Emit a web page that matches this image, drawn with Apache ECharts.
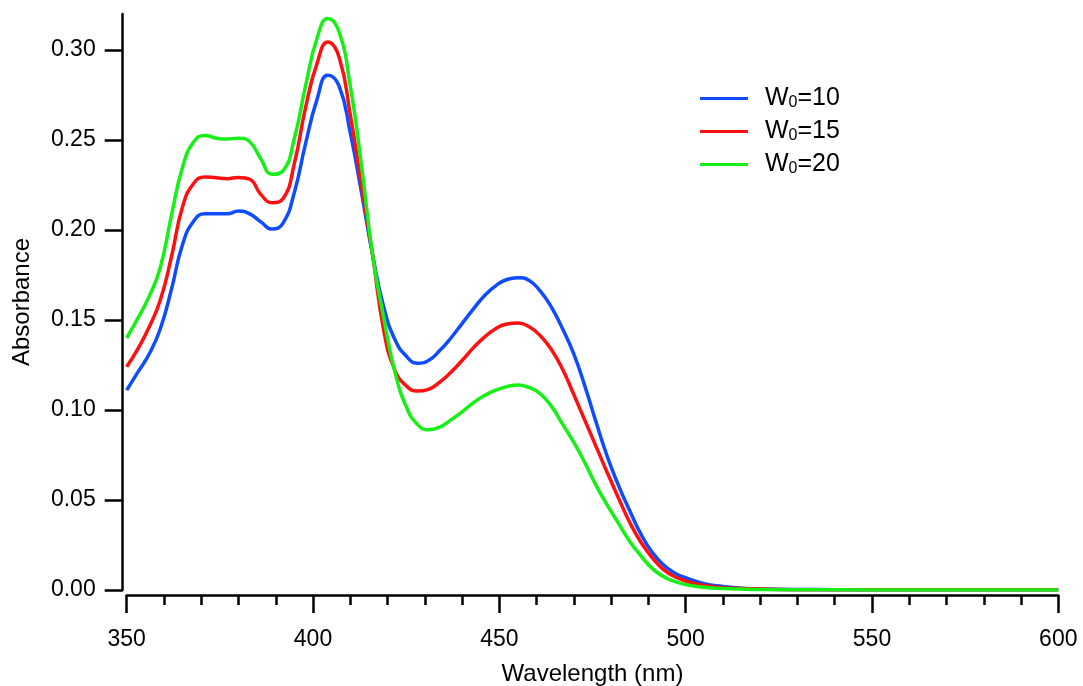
<!DOCTYPE html>
<html>
<head>
<meta charset="utf-8">
<script src="https://cdn.jsdelivr.net/npm/echarts@6/dist/echarts.min.js"></script>
<style>
html,body{margin:0;padding:0;background:#fff;}
#chart{width:1083px;height:686px;}
</style>
</head>
<body>
<div id="chart"></div>
<script>
// Wavelength grid (nm)
const wavelengths = [350,353,356,359,362,365,368,371,374,377,380,383,386,389,392,395,398,401,404,407,410,413,416,419,422,425,428,431,434,437,440,443,446,449,452,455,458,461,464,467,470,473,476,479,482,485,488,491,494,497,500,505,510,515,520,530,540,560,580,600];
// Absorbance, W0=10
const absW10 = [0.111,0.121,0.131,0.145,0.167,0.192,0.205,0.209,0.209,0.209,0.2105,0.209,0.2045,0.2005,0.204,0.221,0.248,0.272,0.286,0.280,0.254,0.221,0.186,0.157,0.139,0.130,0.126,0.1275,0.133,0.140,0.148,0.156,0.1635,0.169,0.1725,0.1735,0.172,0.166,0.157,0.145,0.131,0.113,0.093,0.074,0.058,0.044,0.031,0.021,0.014,0.0095,0.0068,0.0035,0.002,0.001,0.0006,0.0003,0.0002,0.0001,0.0001,0.0001];
// Absorbance, W0=15
const absW15 = [0.124,0.134,0.146,0.161,0.185,0.213,0.226,0.2295,0.229,0.2285,0.2292,0.2282,0.2198,0.2152,0.2175,0.237,0.268,0.292,0.3045,0.296,0.264,0.225,0.186,0.144,0.122,0.1135,0.1105,0.1115,0.1155,0.121,0.1275,0.1345,0.1405,0.1452,0.1478,0.1483,0.1462,0.1412,0.1335,0.1225,0.1085,0.094,0.0795,0.065,0.051,0.0375,0.0265,0.018,0.0115,0.0075,0.005,0.0025,0.0013,0.0008,0.0005,0.0002,0.0001,0.0001,0.0001,0.0001];
// Absorbance, W0=20
const absW20 = [0.140,0.151,0.163,0.179,0.208,0.235,0.249,0.2525,0.251,0.2505,0.251,0.249,0.2395,0.231,0.233,0.251,0.280,0.306,0.3175,0.310,0.280,0.236,0.186,0.151,0.121,0.102,0.092,0.089,0.0905,0.0945,0.099,0.104,0.108,0.111,0.113,0.1139,0.1125,0.109,0.102,0.092,0.082,0.0705,0.058,0.047,0.037,0.027,0.019,0.012,0.0075,0.0048,0.003,0.0015,0.0008,0.0005,0.0003,0.0001,0.0001,0.0,0.0,0.0];

const seriesNames = ['W0=10','W0=15','W0=20'];
const legendValues = ['10','15','20'];
const seriesColors = ['#0f4cff','#ff1010','#16f016'];
const yTickValues = [0,0.05,0.10,0.15,0.20,0.25,0.30];
const xTickLabels = [350,400,450,500,550,600];

const allSeries = [absW10, absW15, absW20];
const FONT = 'Liberation Sans, Arial, sans-serif';

const chart = echarts.init(document.getElementById('chart'), null, {renderer:'canvas'});
const option = {
  backgroundColor:'#ffffff',
  animation:false,
  grid:{left:126.7, right:24.7, top:14, bottom:96, containLabel:false, outerBoundsMode:'none'},
  legend:{
    orient:'vertical',
    left:700, top:85, padding:0,
    itemWidth:48, itemHeight:3, itemGap:7,
    icon:'rect',
    data:seriesNames,
    formatter:function(name){
      const i = seriesNames.indexOf(name);
      return '{a|W}{s|0}{a|=' + legendValues[i] + '}';
    },
    textStyle:{
      color:'#000', fontFamily:FONT, padding:[0,0,0,12],
      rich:{
        a:{fontSize:25, fontFamily:FONT, color:'#000', lineHeight:25},
        s:{fontSize:16, fontFamily:FONT, color:'#000', lineHeight:25, verticalAlign:'bottom', padding:[10,0,0,0]}
      }
    }
  },
  xAxis:{
    type:'value', min:350, max:600, interval:50,
    offset:5,
    name:'Wavelength (nm)', nameLocation:'middle', nameGap:67,
    nameTextStyle:{fontSize:24, fontFamily:FONT, color:'#000'},
    axisLine:{show:true, onZero:false, lineStyle:{color:'#000', width:2.5}},
    axisTick:{show:true, inside:false, length:18, lineStyle:{color:'#000', width:2.5}},
    minorTick:{show:true, splitNumber:5, length:10, lineStyle:{color:'#000', width:2.5}},
    axisLabel:{fontSize:23, fontFamily:FONT, color:'#000', margin:33,
      formatter:function(v){ return xTickLabels.indexOf(v) >= 0 ? String(v) : ''; }},
    splitLine:{show:false}, minorSplitLine:{show:false}
  },
  yAxis:{
    type:'value', min:0, max:0.32,
    offset:4,
    name:'Absorbance', nameLocation:'middle', nameGap:88, nameRotate:90,
    nameTextStyle:{fontSize:24, fontFamily:FONT, color:'#000'},
    axisLine:{show:true, onZero:false, lineStyle:{color:'#000', width:2.5}},
    axisTick:{show:true, inside:false, length:18, lineStyle:{color:'#000', width:2.5}, customValues:yTickValues},
    axisLabel:{fontSize:23, fontFamily:FONT, color:'#000', margin:27, customValues:yTickValues,
      formatter:function(v){ return v.toFixed(2); }},
    splitLine:{show:false}
  },
  series: allSeries.map(function(vals, k){
    return {
      name:seriesNames[k], type:'line', showSymbol:false, smooth:0.5,
      color:seriesColors[k],
      lineStyle:{color:seriesColors[k], width:3.5},
      data: wavelengths.map(function(w, i){ return [w, vals[i]]; }),
      z: 2 + k
    };
  })
};
chart.setOption(option);
</script>
</body>
</html>
